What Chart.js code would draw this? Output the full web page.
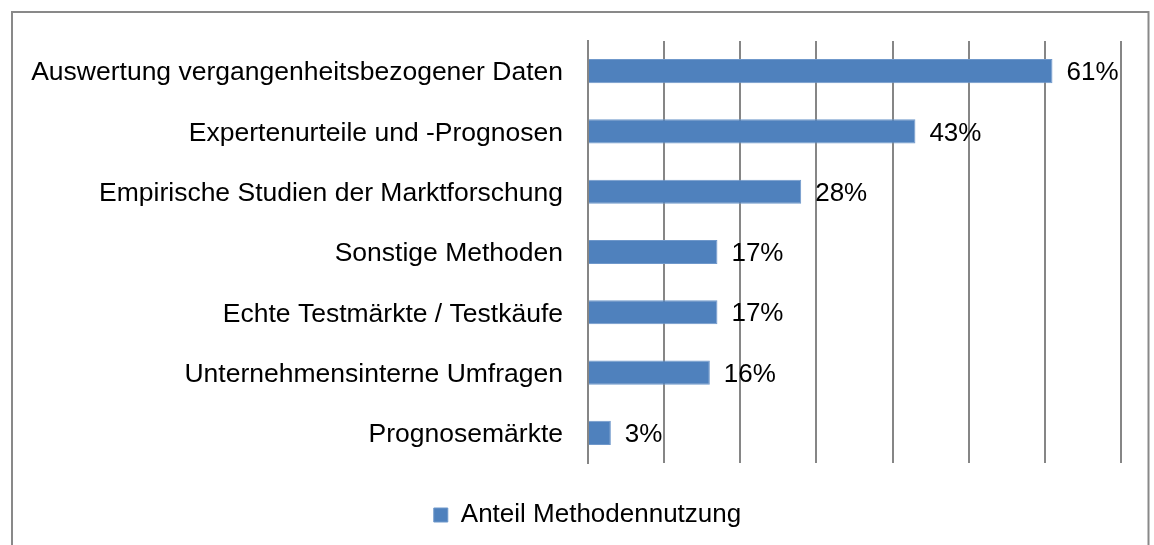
<!DOCTYPE html>
<html>
<head>
<meta charset="utf-8">
<script src="https://cdn.jsdelivr.net/npm/chart.js@4/dist/chart.umd.min.js"></script>
<style>
  html, body { margin: 0; padding: 0; background: #fff; }
  #wrap { width: 1154px; height: 545px; }
</style>
</head>
<body>
<div id="wrap"><canvas id="bar-chart" width="1154" height="545"></canvas></div>
<script>
const categories = [
  "Auswertung vergangenheitsbezogener Daten",
  "Expertenurteile und -Prognosen",
  "Empirische Studien der Marktforschung",
  "Sonstige Methoden",
  "Echte Testmärkte / Testkäufe",
  "Unternehmensinterne Umfragen",
  "Prognosemärkte"
];
const shares = [61, 43, 28, 17, 17, 16, 3];
const seriesName = "Anteil Methodennutzung";
const xMax = 70;
const xStep = 10;

const FONT = '"Liberation Sans", Arial, sans-serif';

/* frame around the chart (bottom edge is outside the picture) */
const framePlugin = {
  id: 'frame',
  beforeDraw(chart) {
    const ctx = chart.ctx;
    ctx.save();
    ctx.strokeStyle = '#898989';
    ctx.lineWidth = 2;
    ctx.beginPath();
    ctx.moveTo(12, 560);
    ctx.lineTo(12, 12);
    ctx.lineTo(1148.5, 12);
    ctx.lineTo(1148.5, 560);
    ctx.stroke();
    ctx.restore();
  },
  // legend sits a bit right of the plot centre in the original
  afterLayout(chart) {
    chart.legend.left += 27;
    chart.legend.right += 27;
  }
};

/* value labels right of the bars */
const valueLabels = {
  id: 'valueLabels',
  afterDatasetsDraw(chart) {
    const ctx = chart.ctx;
    const meta = chart.getDatasetMeta(0);
    ctx.save();
    ctx.font = '26px ' + FONT;
    ctx.fillStyle = '#000';
    ctx.textAlign = 'left';
    ctx.textBaseline = 'middle';
    meta.data.forEach(function(bar, i) {
      ctx.fillText(shares[i] + '%', bar.x + 14, bar.y + 2);
    });
    ctx.restore();
  }
};

new Chart(document.getElementById('bar-chart'), {
  type: 'bar',
  data: {
    labels: categories,
    datasets: [{
      label: seriesName,
      data: shares,
      backgroundColor: '#4F81BD',
      borderColor: '#6F98CB',
      borderWidth: 1,
      barPercentage: 0.4,
      categoryPercentage: 1
    }]
  },
  options: {
    indexAxis: 'y',
    responsive: false,
    animation: false,
    devicePixelRatio: 1,
    layout: { padding: { top: 41, right: 33, left: 0, bottom: 7 } },
    scales: {
      x: {
        min: 0,
        max: xMax,
        ticks: { display: false, stepSize: xStep },
        grid: { color: '#868686', lineWidth: 2, drawTicks: false },
        border: { display: false },
        afterFit(scale) { scale.height = 0; }
      },
      y: {
        grid: { display: false },
        border: { display: true, color: '#868686', width: 2 },
        ticks: {
          color: '#000',
          padding: 17,
          labelOffset: 2,
          font: { family: FONT, size: 26.5 }
        },
        afterFit(scale) { scale.width = 588; }
      }
    },
    plugins: {
      legend: {
        position: 'bottom',
        labels: {
          color: '#000',
          boxWidth: 14,
          boxHeight: 14,
          padding: 39,
          font: { family: FONT, size: 26 }
        }
      },
      tooltip: { enabled: false }
    }
  },
  plugins: [framePlugin, valueLabels]
});
</script>
</body>
</html>
